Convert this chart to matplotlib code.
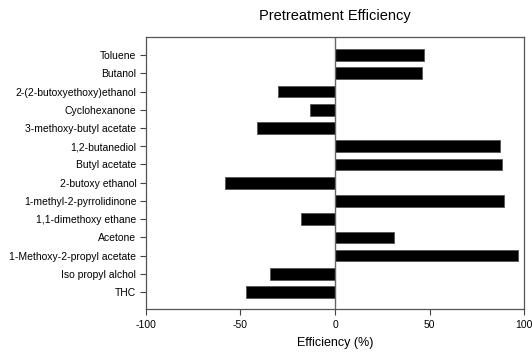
import numpy as np
import matplotlib.pyplot as plt

plt.rcParams['font.family'] = ['Liberation Sans', 'DejaVu Sans']

# solvents, top to bottom as in the chart
solvents = ['Toluene', 'Butanol', '2-(2-butoxyethoxy)ethanol', 'Cyclohexanone',
            '3-methoxy-butyl acetate', '1,2-butanediol', 'Butyl acetate',
            '2-butoxy ethanol', '1-methyl-2-pyrrolidinone', '1,1-dimethoxy ethane',
            'Acetone', '1-Methoxy-2-propyl acetate', 'Iso propyl alchol', 'THC']
efficiency = [47.2, 46.2, -30.3, -13.2, -41.3, 87.5, 88.4,
              -58.4, 89.6, -17.8, 31.2, 97.0, -34.2, -47.2]
xticks = [-100, -50, 0, 50, 100]

fig = plt.figure(figsize=(5.32, 3.56), dpi=100)
ax = fig.add_axes([0.2744, 0.132, 0.7106, 0.764])

y = np.arange(len(solvents))[::-1]
ax.barh(y, efficiency, height=0.64, color='black', edgecolor='#555555', linewidth=0.6)
ax.axvline(0, color='#666666', linewidth=1.0)

ax.set_xlim(-100, 100)
ax.set_ylim(-0.93, 13.99)
ax.set_xticks(xticks)
ax.set_xticklabels([str(v) for v in xticks], fontsize=7.5)
ax.set_yticks(y)
ax.set_yticklabels(solvents, fontsize=7.5)
ax.tick_params(direction='out', length=4, width=0.8, color='#444444', pad=3)
ax.tick_params(axis='x', pad=4)

for s in ax.spines.values():
    s.set_color('#555555')
    s.set_linewidth(0.9)

ax.set_xlabel('Efficiency (%)', fontsize=9, labelpad=5)
ax.set_title('Pretreatment Efficiency', fontsize=10.5, pad=12)

fig.savefig('out.png', dpi=100)
